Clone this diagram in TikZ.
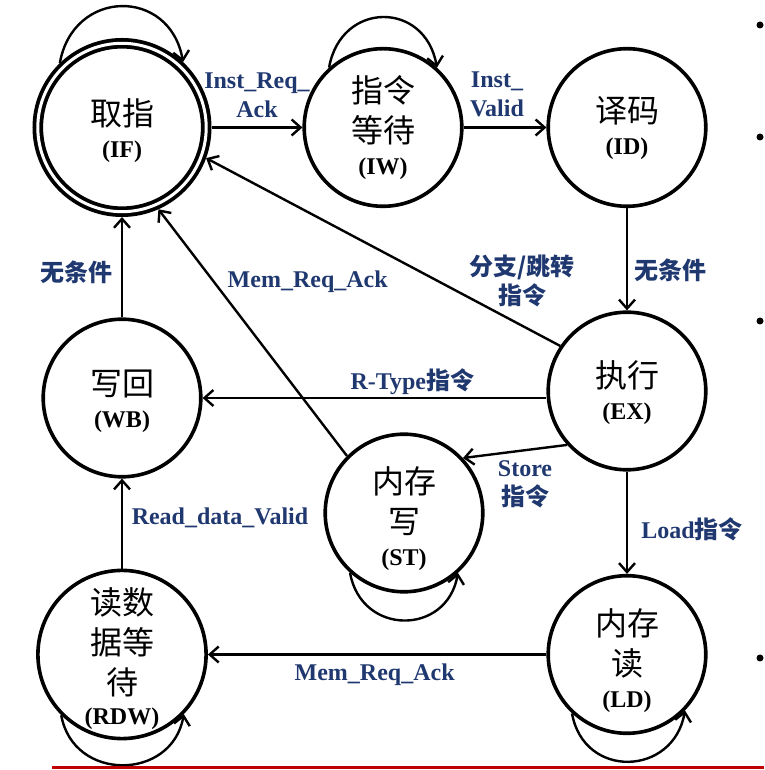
\documentclass[tikz,border=0pt]{standalone}
\usepackage{fontspec}
\setmainfont{Liberation Serif}
\newfontfamily\cjk{Noto Sans CJK SC}
\usetikzlibrary{arrows.meta}
\definecolor{lblblue}{RGB}{32,56,112}
\definecolor{linered}{RGB}{192,0,0}
\tikzset{
  state/.style={circle, draw, line width=3.6pt, minimum size=157.6pt, inner sep=0pt, align=center, font=\fontsize{32}{40}\selectfont},
  final/.style={state, double, double distance=3pt, line width=3.8pt, minimum size=168.4pt, outer sep=5.3pt},
  arr/.style={line width=2.4pt, -{Straight Barb[length=9pt,width=16pt]}},
  lbl/.style={text=lblblue, font=\fontsize{24}{29}\selectfont\bfseries, align=center, inner sep=0pt},
}
\newcommand{\stname}[1]{\\[-8pt]{\fontsize{24}{28}\selectfont\bfseries (#1)}}
\newcommand{\topstrut}[1]{\rule{0pt}{#1}}
\begin{document}
\begin{tikzpicture}[x=1pt,y=1pt]
  \useasboundingbox (0,0) rectangle (764,770);
  %% states
  \node[final] (IF) at (122,642.5) {\topstrut{34pt}{\cjk 取指}\stname{IF}};
  \node[state] (IW) at (383,642.5) {{\cjk 指令}\\{\cjk 等待}\stname{IW}};
  \node[state] (ID) at (627,642.5) {{\cjk 译码}\stname{ID}};
  \node[state] (EX) at (627,379) {\topstrut{30pt}{\cjk 执行}\stname{EX}};
  \node[state] (WB) at (122,372) {\topstrut{32pt}{\cjk 写回}\stname{WB}};
  \node[state] (ST) at (404,257) {\topstrut{38pt}{\cjk 内存}\\{\cjk 写}\stname{ST}};
  \node[state] (RDW) at (122,115.5) {\topstrut{36pt}{\cjk 读数}\\{\cjk 据等}\\{\cjk 待}\\[-10pt]{\fontsize{24}{28}\selectfont\bfseries (RDW)}};
  \node[state] (LD) at (627,115.5) {\topstrut{40pt}{\cjk 内存}\\{\cjk 读}\stname{LD}};
  %% transitions
  \draw[arr] (IF) -- node[lbl, yshift=32pt] (lInstAck) {Inst\_Req\_\\Ack} (IW);
  \draw[arr] (IW) -- node[lbl, xshift=-8pt, yshift=33.5pt] (lInstValid) {Inst\_\\Valid} (ID);
  \draw[arr] (ID) -- node[lbl, xshift=43pt, yshift=-11pt] (lIDEX) {\cjk 无条件} (EX);
  \draw[arr] (EX.146) -- node[lbl, pos=0.15, xshift=15pt, yshift=37pt] (lBranch) {\cjk 分支/跳转\\\cjk 指令} (IF.-20);
  \draw[arr] (EX.west |- WB) -- node[lbl, pos=0.39, yshift=16pt] (lRType) {R-Type{\cjk 指令}} (WB);
  \draw[arr] (EX.222) -- node[lbl, xshift=10pt, yshift=-32.5pt] (lStore) {Store\\\cjk 指令} (ST.43);
  \draw[arr] (EX) -- node[lbl, xshift=65pt, yshift=-7pt] (lLoad) {Load{\cjk 指令}} (LD);
  \draw[arr] (ST.135) -- node[lbl, xshift=55pt, yshift=50.5pt] (lMemST) {Mem\_Req\_Ack} (IF.-66);
  \draw[arr] (WB) -- node[lbl, xshift=-46pt, yshift=-5pt] (lWBIF) {\cjk 无条件} (IF);
  \draw[arr] (RDW) -- node[lbl, xshift=98pt, yshift=6pt] (lReadValid) {Read\_data\_Valid} (WB);
  \draw[arr] (LD) -- node[lbl, xshift=-2.5pt, yshift=-20.5pt] (lMemLD) {Mem\_Req\_Ack} (RDW);
  %% self loops
  \draw[arr] (IF.134) .. controls +(80:76) and +(100:76) .. (IF.47);
  \draw[arr] (IW.132) .. controls +(80:68) and +(100:68) .. (IW.48);
  \draw[arr] (ST.228) .. controls +(280:64) and +(260:64) .. (ST.312);
  \draw[arr] (RDW.225) .. controls +(280:68) and +(260:68) .. (RDW.316);
  \draw[arr] (LD.227) .. controls +(280:67) and +(260:67) .. (LD.316);
  %% slide edge
  \foreach \y in {745,633,449,112}
    \fill (760,\y) circle (3.5pt);
  \draw[linered, line width=3pt] (52,2) -- (764,2);
\end{tikzpicture}
\end{document}
